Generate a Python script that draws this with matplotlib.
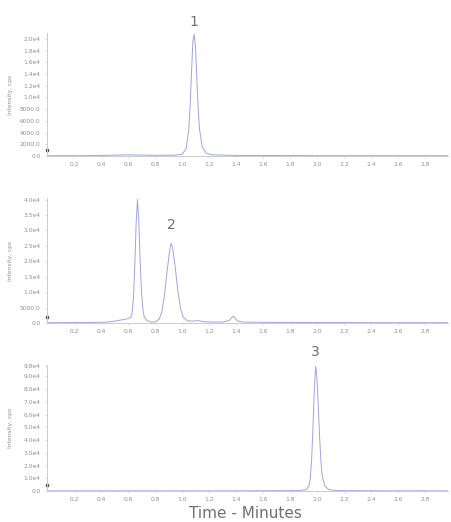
import matplotlib
matplotlib.use("Agg")
import matplotlib.pyplot as plt
from matplotlib.ticker import FuncFormatter, FixedLocator

# ---- data ----
t1 = [0.0, 0.3, 0.5, 0.6, 0.8, 0.95, 1.00, 1.03, 1.05, 1.06, 1.07, 1.08, 1.09,
      1.10, 1.11, 1.12, 1.13, 1.15, 1.18, 1.22, 1.4, 2.0, 2.97]
y1 = [50, 60, 150, 200, 120, 150, 300, 1200, 4500, 8500, 14000, 19500, 20800,
      18500, 13000, 8000, 4500, 1500, 500, 200, 100, 60, 50]

t2 = [0.0, 0.3, 0.45, 0.50, 0.55, 0.60, 0.62, 0.63, 0.64, 0.65, 0.66, 0.67, 0.68,
      0.69, 0.70, 0.71, 0.72, 0.74, 0.77, 0.80, 0.83, 0.85, 0.87, 0.89, 0.91, 0.92,
      0.93, 0.95, 0.97, 0.99, 1.01, 1.04, 1.08, 1.12, 1.16, 1.22, 1.30, 1.35, 1.37,
      1.38, 1.39, 1.41, 1.45, 1.6, 2.0, 2.5, 2.97]
y2 = [100, 150, 300, 600, 1000, 1400, 1800, 3000, 8000, 18000, 32000, 40000, 33000,
      20000, 10000, 4500, 2000, 800, 300, 300, 1200, 3500, 9000, 17000, 24000, 25800,
      24500, 18000, 10000, 4500, 1800, 700, 600, 800, 400, 300, 300, 800, 1800,
      2200, 1800, 700, 300, 200, 150, 100, 100]

t3 = [0.0, 0.5, 1.0, 1.5, 1.85, 1.92, 1.94, 1.95, 1.96, 1.97, 1.98, 1.99, 2.00,
      2.01, 2.02, 2.03, 2.04, 2.06, 2.09, 2.15, 2.5, 2.97]
y3 = [100, 150, 100, 150, 300, 1000, 4000, 10000, 25000, 50000, 80000, 98000, 88000,
      65000, 40000, 22000, 11000, 3500, 1000, 300, 150, 100]

peak_labels = ["1", "2", "3"]
peak_times = [1.09, 0.92, 1.99]
peak_heights = [20800, 25800, 98000]

x_ticks = [0.2, 0.4, 0.6, 0.8, 1.0, 1.2, 1.4, 1.6, 1.8, 2.0, 2.2, 2.4, 2.6, 2.8]
y_ticks1 = [0, 2000, 4000, 6000, 8000, 10000, 12000, 14000, 16000, 18000, 20000]
y_ticks2 = [0, 5000, 10000, 15000, 20000, 25000, 30000, 35000, 40000]
y_ticks3 = [0, 10000, 20000, 30000, 40000, 50000, 60000, 70000, 80000, 90000, 98000]

# ---- styling ----
line_color = "#a0a3e2"
spine_color = "#cccccc"
text_color = "#909090"

fig = plt.figure(figsize=(4.52, 5.22), dpi=100)
fig.patch.set_facecolor("white")

W, H = 452.0, 522.0
left = 47 / W
width = (448 - 47) / W
panels = [
    (t1, y1, y_ticks1, 21000, 156, 33, 4),
    (t2, y2, y_ticks2, 40500, 323, 198, 8),
    (t3, y3, y_ticks3, 99000, 491, 365, 5),
]


def fmt(v, pos=None):
    if v < 10000:
        return f"{v:.1f}"
    return f"{v / 1e4:.1f}e4"


for i, (t, y, yt, ytop, ybot_px, ytop_px, lab_off) in enumerate(panels):
    ax = fig.add_axes([left, 1 - ybot_px / H, width, (ybot_px - ytop_px) / H])
    ax.plot(t, y, color=line_color, lw=0.7)
    ax.set_xlim(0, 2.97)
    ax.set_ylim(0, ytop)
    ax.xaxis.set_major_locator(FixedLocator(x_ticks))
    ax.yaxis.set_major_locator(FixedLocator(yt))
    ax.xaxis.set_major_formatter(FuncFormatter(lambda v, p: f"{v:.1f}"))
    ax.yaxis.set_major_formatter(FuncFormatter(fmt))
    for s in ["top", "right"]:
        ax.spines[s].set_visible(False)
    for s in ["left", "bottom"]:
        ax.spines[s].set_color(spine_color)
        ax.spines[s].set_linewidth(0.7)
    ax.tick_params(axis="both", labelsize=4.3, colors=spine_color,
                   labelcolor=text_color, length=1.5, width=0.5, pad=3)
    ax.set_ylabel("Intensity, cps", fontsize=4.3, color=text_color, labelpad=6)
    ax.yaxis.set_label_coords(-0.085, 0.5)
    ax.annotate(peak_labels[i], xy=(peak_times[i], peak_heights[i]),
                xytext=(0, lab_off), textcoords="offset points",
                ha="center", va="bottom", fontsize=10, color="#707070",
                annotation_clip=False)
    ax.plot([0.0], [0.05], marker="s", ms=1.6, color="#555555",
            transform=ax.transAxes, clip_on=False)

fig.text(245 / W, 1 - 513 / H, "Time - Minutes", ha="center", va="center",
         fontsize=11, color="#707070")

fig.savefig("out.png", dpi=100, facecolor="white")
